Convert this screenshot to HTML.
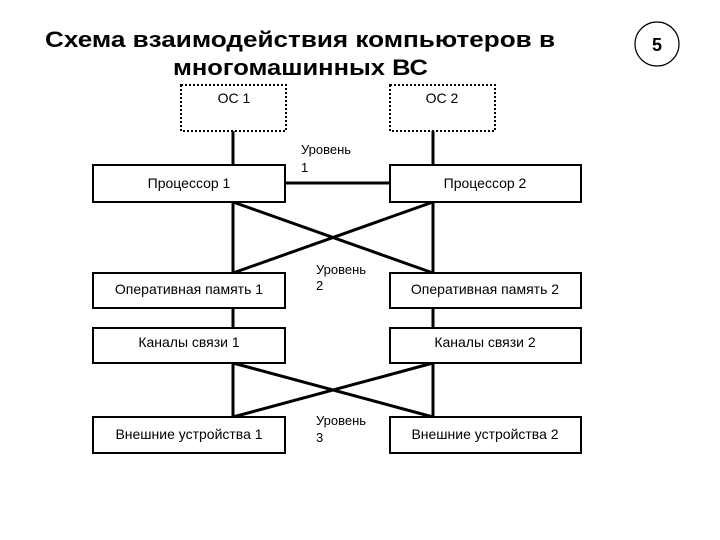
<!DOCTYPE html>
<html><head><meta charset="utf-8"><style>
html,body{margin:0;padding:0;background:#fff;}
svg{display:block;font-family:"Liberation Sans",sans-serif;}
</style></head><body>
<svg width="720" height="540" viewBox="0 0 720 540" xmlns="http://www.w3.org/2000/svg">
<rect width="720" height="540" fill="#fff"/>
<g font-weight="bold" font-size="22" fill="#000">
<text x="45" y="47" textLength="510" lengthAdjust="spacingAndGlyphs">Схема взаимодействия компьютеров в</text>
<text x="173" y="75" textLength="255" lengthAdjust="spacingAndGlyphs">многомашинных ВС</text>
</g>
<circle cx="657" cy="44" r="22" fill="none" stroke="#000" stroke-width="1.2"/>
<text x="657" y="51" font-size="18" font-weight="bold" text-anchor="middle">5</text>

<g stroke="#000" stroke-width="3" fill="none">
<line x1="233" y1="131" x2="233" y2="165"/>
<line x1="433" y1="131" x2="433" y2="165"/>
<line x1="285" y1="183" x2="389" y2="183"/>
<line x1="233" y1="202" x2="233" y2="273"/>
<line x1="433" y1="202" x2="433" y2="273"/>
<line x1="233" y1="202" x2="433" y2="273"/>
<line x1="433" y1="202" x2="233" y2="273"/>
<line x1="233" y1="308" x2="233" y2="328"/>
<line x1="433" y1="308" x2="433" y2="328"/>
<line x1="233" y1="363" x2="233" y2="417"/>
<line x1="433" y1="363" x2="433" y2="417"/>
<line x1="233" y1="363" x2="433" y2="417"/>
<line x1="433" y1="363" x2="233" y2="417"/>
</g>
<g stroke="#000" stroke-width="2" fill="#fff" stroke-dasharray="2,2">
<rect x="181" y="85" width="105" height="46"/>
<rect x="390" y="85" width="105" height="46"/>
</g>
<g stroke="#000" stroke-width="2" fill="#fff">
<rect x="93" y="165" width="192" height="37"/>
<rect x="390" y="165" width="191" height="37"/>
<rect x="93" y="273" width="192" height="35"/>
<rect x="390" y="273" width="191" height="35"/>
<rect x="93" y="328" width="192" height="35"/>
<rect x="390" y="328" width="191" height="35"/>
<rect x="93" y="417" width="192" height="36"/>
<rect x="390" y="417" width="191" height="36"/>
</g>
<g font-size="14" fill="#000" text-anchor="middle">
<text x="234" y="103">ОС 1</text>
<text x="442" y="103">ОС 2</text>
<text x="189" y="188">Процессор 1</text>
<text x="485" y="188">Процессор 2</text>
<text x="189" y="294">Оперативная память 1</text>
<text x="485" y="294">Оперативная память 2</text>
<text x="189" y="347">Каналы связи 1</text>
<text x="485" y="347">Каналы связи 2</text>
<text x="189" y="439">Внешние устройства 1</text>
<text x="485" y="439">Внешние устройства 2</text>
</g>
<g font-size="13" fill="#000">
<text x="301" y="154">Уровень</text>
<text x="301" y="172">1</text>
<text x="316" y="274">Уровень</text>
<text x="316" y="290">2</text>
<text x="316" y="425">Уровень</text>
<text x="316" y="442">3</text>
</g>
</svg>
</body></html>
